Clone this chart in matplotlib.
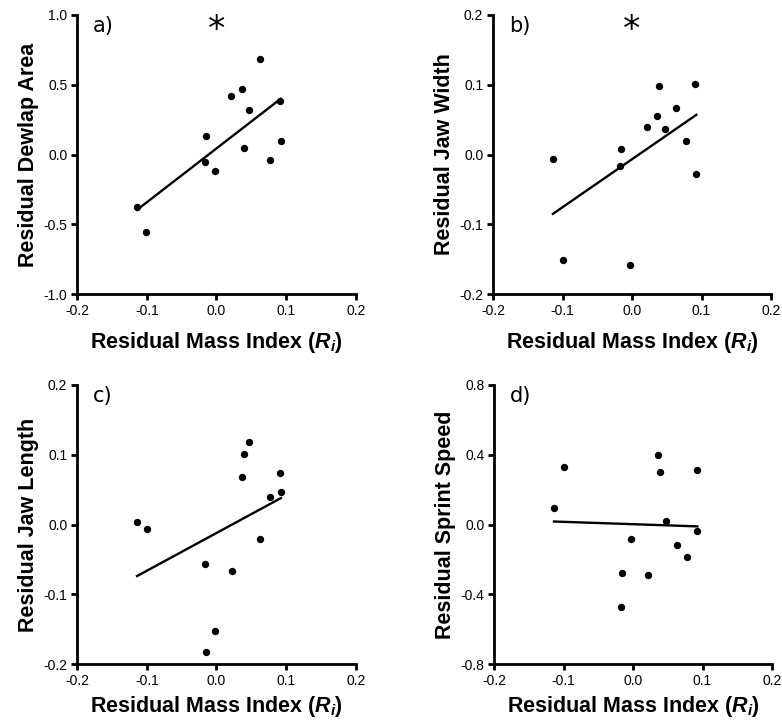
import numpy as np
import matplotlib
matplotlib.use("Agg")
import matplotlib.pyplot as plt

# residual mass index (x) read per panel
x_dewlap = [-0.114, -0.1005, -0.0153, -0.0167, -0.0024, 0.0215, 0.0359, 0.0388, 0.0469, 0.0627, 0.077, 0.0909, 0.0919]
y_dewlap = [-0.378, -0.557, 0.132, -0.053, -0.117, 0.421, 0.466, 0.048, 0.316, 0.682, -0.038, 0.385, 0.098]

x_jaw_width = [-0.1137, -0.0998, -0.0153, -0.0168, -0.0024, 0.0216, 0.036, 0.0388, 0.0475, 0.0628, 0.0772, 0.0911, 0.0926]
y_jaw_width = [-0.0067, -0.151, 0.0086, -0.0158, -0.158, 0.039, 0.0555, 0.0976, 0.0359, 0.0665, 0.0187, 0.1005, -0.0282]

x_jaw_length = [-0.1139, -0.0995, -0.0163, -0.0153, -0.0024, 0.022, 0.0359, 0.0388, 0.0469, 0.0627, 0.077, 0.0909, 0.0923]
y_jaw_length = [0.0029, -0.0067, -0.0565, -0.183, -0.153, -0.0665, 0.0675, 0.101, 0.118, -0.0215, 0.0388, 0.0732, 0.0464]

x_sprint = [-0.1137, -0.0998, -0.0153, -0.0168, -0.0024, 0.0221, 0.036, 0.0388, 0.048, 0.0628, 0.0777, 0.0916, 0.0926]
y_sprint = [0.0957, 0.329, -0.279, -0.473, -0.084, -0.289, 0.398, 0.300, 0.021, -0.115, -0.189, 0.314, -0.036]

ylabels = ["Residual Dewlap Area", "Residual Jaw Width", "Residual Jaw Length", "Residual Sprint Speed"]
panel_tags = ["a)", "b)", "c)", "d)"]
significant = [True, True, False, False]
yticks = [[-1.0, -0.5, 0.0, 0.5, 1.0],
          [-0.2, -0.1, 0.0, 0.1, 0.2],
          [-0.2, -0.1, 0.0, 0.1, 0.2],
          [-0.8, -0.4, 0.0, 0.4, 0.8]]
xticks = [-0.2, -0.1, 0.0, 0.1, 0.2]

plt.rcParams['font.family'] = ['Liberation Sans', 'DejaVu Sans']
plt.rcParams['axes.unicode_minus'] = False
plt.rcParams['mathtext.fontset'] = 'custom'
plt.rcParams['mathtext.rm'] = 'Liberation Sans:bold'
plt.rcParams['mathtext.it'] = 'Liberation Sans:italic:bold'

fig = plt.figure(figsize=(7.82, 7.25), dpi=100)
W, H = 782, 725
boxes = [(77, 15, 356, 294), (493, 15, 771, 294), (77, 385, 356, 664), (494, 385, 772, 664)]
xlabel_pads = [9, 9, 4.5, 4.5]

data = [(x_dewlap, y_dewlap), (x_jaw_width, y_jaw_width),
        (x_jaw_length, y_jaw_length), (x_sprint, y_sprint)]

for i, (xs, ys) in enumerate(data):
    l, t, r, b = boxes[i]
    ax = fig.add_axes([l / W, 1 - b / H, (r - l) / W, (b - t) / H])
    xs = np.array(xs)
    ys = np.array(ys)
    ax.scatter(xs, ys, s=28, color='black', zorder=3, linewidths=0)
    # least-squares line over the observed x range
    k, c = np.polyfit(xs, ys, 1)
    xl = np.array([xs.min(), xs.max()])
    ax.plot(xl, k * xl + c, color='black', lw=1.7)

    ax.set_xlim(-0.2, 0.2)
    ax.set_ylim(yticks[i][0], yticks[i][-1])
    ax.set_xticks(xticks)
    ax.set_yticks(yticks[i])
    ax.set_xticklabels([f"{v:.1f}" for v in xticks])
    ax.set_yticklabels([f"{v:.1f}" for v in yticks[i]])
    for s in ['top', 'right']:
        ax.spines[s].set_visible(False)
    for s in ['left', 'bottom']:
        ax.spines[s].set_linewidth(2)
    ax.tick_params(width=2, length=4, labelsize=10, pad=3)
    ax.set_ylabel(ylabels[i], fontsize=15.5, fontweight='bold', labelpad=3)
    ax.set_xlabel(r'Residual Mass Index ($R_i$)', fontsize=15.5, fontweight='bold',
                  labelpad=xlabel_pads[i])
    ax.text(0.058, 0.995, panel_tags[i], transform=ax.transAxes, fontsize=15,
            family='DejaVu Sans', va='top', ha='left')
    if significant[i]:
        ax.text(0.5, 0.945, '*', transform=ax.transAxes, fontsize=25,
                family='DejaVu Sans', va='center', ha='center')

fig.savefig("out.png", dpi=100)
